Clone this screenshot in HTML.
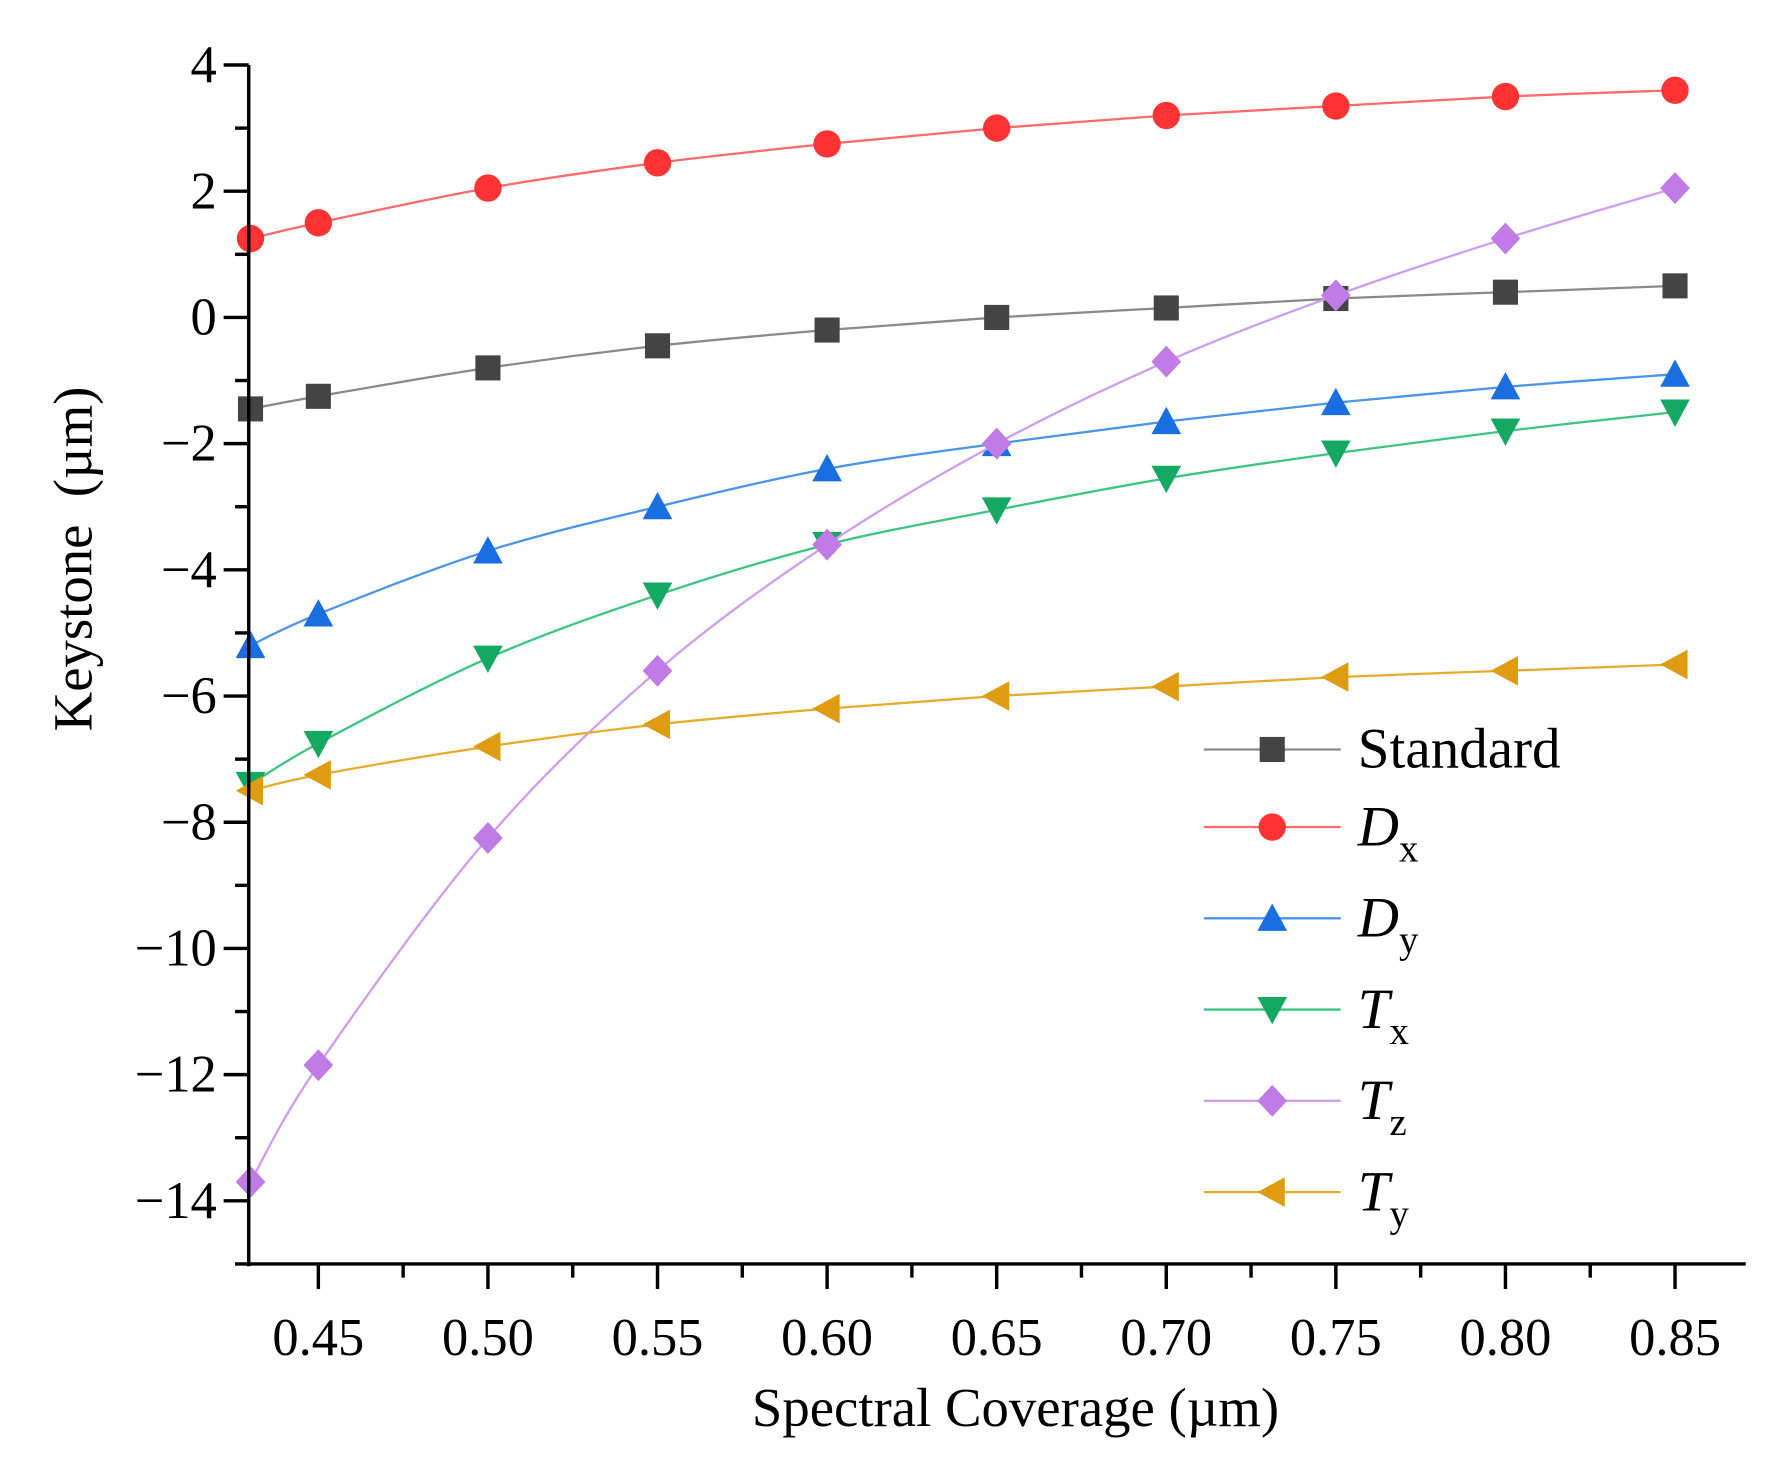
<!DOCTYPE html>
<html><head><meta charset="utf-8"><style>
html,body{margin:0;padding:0;background:#fff;}
svg{display:block;}
text{font-family:"Liberation Serif",serif;fill:#000;}
</style></head><body>
<svg id="chart" width="1780" height="1467" viewBox="0 0 1560 1286" preserveAspectRatio="none" xmlns="http://www.w3.org/2000/svg">
<g id="plot"></g>
<g id="axes"></g>
<g id="legend"></g>
<text transform="translate(80,490) rotate(-90)" text-anchor="middle" font-size="48" xml:space="preserve">Keystone  (µm)</text>
<text x="890" y="1250" text-anchor="middle" font-size="48">Spectral Coverage (µm)</text>
</svg>
<script>
const xValues=[0.43,0.45,0.50,0.55,0.60,0.65,0.70,0.75,0.80,0.85];
const standardVals=[-1.45,-1.25,-0.8,-0.45,-0.2,0,0.15,0.3,0.4,0.5];
const dxVals=[1.25,1.5,2.05,2.45,2.75,3.0,3.2,3.35,3.5,3.6];
const dyVals=[-5.2,-4.7,-3.7,-3.0,-2.4,-2.0,-1.65,-1.35,-1.1,-0.9];
const txVals=[-7.4,-6.75,-5.4,-4.4,-3.6,-3.05,-2.55,-2.15,-1.8,-1.5];
const tzVals=[-13.7,-11.85,-8.25,-5.6,-3.6,-2.0,-0.7,0.35,1.25,2.05];
const tyVals=[-7.5,-7.25,-6.8,-6.45,-6.2,-6.0,-5.85,-5.7,-5.6,-5.5];
const yTickVals=[-14,-12,-10,-8,-6,-4,-2,0,2,4];
const yTickLabels=["\u221214","\u221212","\u221210","\u22128","\u22126","\u22124","\u22122","0","2","4"];
const xTickVals=[0.45,0.50,0.55,0.60,0.65,0.70,0.75,0.80,0.85];
const xTickLabels=["0.45","0.50","0.55","0.60","0.65","0.70","0.75","0.80","0.85"];

const NS="http://www.w3.org/2000/svg";
const X0=218,X1=1530,Y0=1108,Y1=57;
const yMin=-15,yMax=4;
const pxPerUnit=(1468-279)/0.4;
function sx(v){return 279+(v-0.45)*pxPerUnit;}
const xMax=0.45+(X1-279)/pxPerUnit;
function sy(v){return Y0-(v-yMin)/(yMax-yMin)*(Y0-Y1);}
function mk(tag,attrs,parent){const e=document.createElementNS(NS,tag);for(const k in attrs)e.setAttribute(k,attrs[k]);parent.appendChild(e);return e;}

const series=[
 {name:"standard",vals:standardVals,line:"#8a8a8a",fill:"#444",m:"square"},
 {name:"dx",vals:dxVals,line:"#ff6a6a",fill:"#ff3333",m:"circle"},
 {name:"dy",vals:dyVals,line:"#4a94ec",fill:"#1a6fe0",m:"up"},
 {name:"tx",vals:txVals,line:"#3cc482",fill:"#14a862",m:"down"},
 {name:"tz",vals:tzVals,line:"#d09cf0",fill:"#c07be6",m:"diamond"},
 {name:"ty",vals:tyVals,line:"#e6ac2c",fill:"#e09c10",m:"left"}
];
function marker(type,x,y,fill,parent){
 const s=12;let e;
 if(type==="square")e=mk("rect",{x:x-s+1,y:y-s+1,width:2*s-2,height:2*s-2,fill:fill},parent);
 else if(type==="circle")e=mk("circle",{cx:x,cy:y,r:s,fill:fill},parent);
 else{let p;
  if(type==="up")p=[[x,y-s-1],[x+s+1,y+s-1],[x-s-1,y+s-1]];
  else if(type==="down")p=[[x,y+s+1],[x+s+1,y-s+1],[x-s-1,y-s+1]];
  else if(type==="diamond")p=[[x,y-s-2],[x+s+1,y],[x,y+s+2],[x-s-1,y]];
  else p=[[x-s-1,y],[x+s-1,y-s-1],[x+s-1,y+s+1]];
  e=mk("polygon",{points:p.map(q=>q.join(",")).join(" "),fill:fill},parent);}
 return e;
}
function smoothPath(pts){
 let d="M"+pts[0][0]+","+pts[0][1];
 for(let i=0;i<pts.length-1;i++){
  const p0=pts[Math.max(0,i-1)],p1=pts[i],p2=pts[i+1],p3=pts[Math.min(pts.length-1,i+2)];
  const c1=[p1[0]+(p2[0]-p0[0])/6,p1[1]+(p2[1]-p0[1])/6];
  const c2=[p2[0]-(p3[0]-p1[0])/6,p2[1]-(p3[1]-p1[1])/6];
  d+=" C"+c1[0]+","+c1[1]+" "+c2[0]+","+c2[1]+" "+p2[0]+","+p2[1];
 }
 return d;
}
const plot=document.getElementById("plot");
series.forEach(s=>{
 const g=mk("g",{},plot);
 
 
 const pts=xValues.map((x,i)=>[sx(x),sy(s.vals[i])]);
 const path=mk("path",{d:smoothPath(pts),fill:"none",stroke:s.line,"stroke-width":2},g);
 
 
 pts.forEach((p,i)=>{
  const m=marker(s.m,p[0],p[1],s.fill,g);
  
  
 });
});
const axes=document.getElementById("axes");
const ya=mk("line",{x1:X0,y1:Y1,x2:X0,y2:Y0+2,stroke:"#000","stroke-width":3},axes);


const xa=mk("line",{x1:X0-2,y1:Y0,x2:X1,y2:Y0,stroke:"#000","stroke-width":3},axes);


yTickVals.forEach((v,i)=>{
 const y=sy(v);
 mk("line",{x1:X0-22,y1:y,x2:X0,y2:y,stroke:"#000","stroke-width":3},axes);
 if(v+1<=yMax)mk("line",{x1:X0-12,y1:sy(v+1),x2:X0,y2:sy(v+1),stroke:"#000","stroke-width":3},axes);
 const t=mk("text",{x:X0-28,y:y+15,"text-anchor":"end","font-size":46},axes);
 t.textContent=yTickLabels[i];
 
 
});
mk("line",{x1:X0-12,y1:sy(-15),x2:X0,y2:sy(-15),stroke:"#000","stroke-width":3},axes);
xTickVals.forEach((v,i)=>{
 const x=sx(v);
 mk("line",{x1:x,y1:Y0,x2:x,y2:Y0+22,stroke:"#000","stroke-width":3},axes);
 if(v+0.025<xMax)mk("line",{x1:sx(v+0.025),y1:Y0,x2:sx(v+0.025),y2:Y0+12,stroke:"#000","stroke-width":3},axes);
 const t=mk("text",{x:x,y:Y0+80,"text-anchor":"middle","font-size":46},axes);
 t.textContent=xTickLabels[i];
 
 
});
const leg=document.getElementById("legend");
const legLabels=[["Standard",""],["D","x"],["D","y"],["T","x"],["T","z"],["T","y"]];
const legY=[657,725,805,885,965,1045];
series.forEach((s,i)=>{
 const g=mk("g",{},leg);
 
 
 const y=legY[i];
 mk("line",{x1:1055,y1:y,x2:1175,y2:y,stroke:s.line,"stroke-width":2},g);
 marker(s.m,1115,y,s.fill,g);
 const t=mk("text",{x:1190,y:y+16,"font-size":50},g);
 if(i===0){t.textContent="Standard";}
 else{
  const a=mk("tspan",{"font-style":"italic"},t);a.textContent=legLabels[i][0];
  const b=mk("tspan",{dy:14,"font-size":34},t);b.textContent=legLabels[i][1];
 }
});
</script>
</body></html>
